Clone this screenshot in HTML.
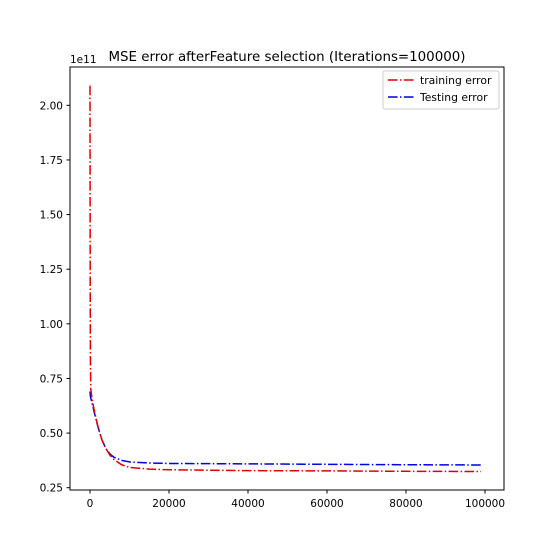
<!DOCTYPE html>
<html><head><meta charset="utf-8"><style>body{margin:0;background:#fff}svg{display:block;font-family:"DejaVu Sans","Liberation Sans",sans-serif}</style></head>
<body>
<svg id="chart" width="560" height="560" viewBox="0 0 560 560">
<rect width="560" height="560" fill="#fff"/>
<text x="287" y="61" font-size="13.4" text-anchor="middle" fill="#000">MSE error afterFeature selection (Iterations=100000)</text>
<text x="70" y="63" font-size="10.5" fill="#000">1e11</text>
<g id="plot"></g>
<rect x="70" y="67" width="434" height="423" fill="none" stroke="#000" stroke-width="1"/>
<g>
<rect x="383" y="71" width="116" height="38" rx="2" fill="#fff" stroke="#ccc"/>
<line x1="388" y1="80" x2="414" y2="80" stroke="#e00000" stroke-width="1.5" stroke-dasharray="9.6,2.4,1.5,2.4"/>
<text x="420" y="84" font-size="10.8">training error</text>
<line x1="388" y1="97" x2="414" y2="97" stroke="#0000e0" stroke-width="1.5" stroke-dasharray="9.6,2.4,1.5,2.4"/>
<text x="420" y="101" font-size="10.8">Testing error</text>
</g>
</svg>
<script>
const iters = [0, 50, 100, 200, 500, 1000, 2000, 3000, 4000, 5000, 6000, 8000, 10000, 15000, 20000, 30000, 40000, 60000, 80000, 99000];
const trainErr = [2.09, 1.2, 0.85, 0.70, 0.66, 0.61, 0.53, 0.47, 0.43, 0.40, 0.38, 0.355, 0.343, 0.335, 0.332, 0.330, 0.328, 0.327, 0.325, 0.324];
const testErr = [0.69, 0.68, 0.67, 0.66, 0.64, 0.60, 0.53, 0.47, 0.43, 0.405, 0.39, 0.375, 0.368, 0.363, 0.361, 0.360, 0.359, 0.357, 0.355, 0.354];
const xTicks = [0, 20000, 40000, 60000, 80000, 100000];
const xTickLabels = ["0", "20000", "40000", "60000", "80000", "100000"];
const yTicks = [0.25, 0.5, 0.75, 1.0, 1.25, 1.5, 1.75, 2.0];
const yTickLabels = ["0.25", "0.50", "0.75", "1.00", "1.25", "1.50", "1.75", "2.00"];
const NS = "http://www.w3.org/2000/svg";
const X = v => 90 + v * (395 / 100000);
const Y = v => 487.7 - (v - 0.25) * 218.5;
const svg = document.getElementById('chart');
const plot = document.getElementById('plot');
function mk(tag, attrs, parent) { const e = document.createElementNS(NS, tag); for (const k in attrs) e.setAttribute(k, attrs[k]); parent.appendChild(e); return e; }
xTicks.forEach((t, i) => {
  const l = mk('line', {x1: X(t), x2: X(t), y1: 490, y2: 493.5, stroke: '#000'}, svg);
  
  
  const tx = mk('text', {x: X(t), y: 507, 'font-size': 10.5, 'text-anchor': 'middle'}, svg);
  tx.textContent = xTickLabels[i];
  
  
});
yTicks.forEach((t, i) => {
  const l = mk('line', {x1: 66.5, x2: 70, y1: Y(t), y2: Y(t), stroke: '#000'}, svg);
  
  
  const tx = mk('text', {x: 63, y: Y(t) + 4, 'font-size': 10.5, 'text-anchor': 'end'}, svg);
  tx.textContent = yTickLabels[i];
  
  
});
function series(vals, color, name) {
  const d = iters.map((t, i) => (i ? 'L' : 'M') + X(t).toFixed(2) + ',' + Y(vals[i]).toFixed(2)).join(' ');
  const p = mk('path', {d: d, fill: 'none', stroke: color, 'stroke-width': 1.5, 'stroke-dasharray': '9.6,2.4,1.5,2.4'}, plot);
  
  
}
series(testErr, '#0000e0', 'testing-error-line');
series(trainErr, '#e00000', 'training-error-line');
</script>
</body></html>
